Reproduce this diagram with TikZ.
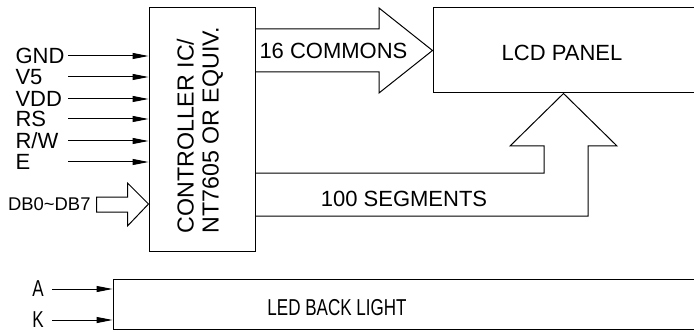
\documentclass[tikz,border=0pt]{standalone}
\usepackage{fontspec}
\setmainfont{Liberation Sans}
\usetikzlibrary{arrows.meta,calc}

\begin{document}
\begin{tikzpicture}[x=0.5pt,y=-0.5pt,line width=0.5pt,
    box/.style={draw,inner sep=0pt},
    sig/.style={-{Triangle[length=8pt,width=3pt]}},
    txt/.style={inner sep=0pt,font=\fontsize{11}{12.5}\selectfont},
    narrow/.style={txt,font=\fontsize{11.5}{13}\selectfont,xscale=0.74}]
    \useasboundingbox (0,0) rectangle (694,331);
    % blocks
    \node[box,minimum width=53pt,minimum height=121.5pt] (ctrl) at (202,129.5) {};
    \node[box,minimum width=130.5pt,minimum height=42.5pt] (lcd) at (563.5,50.5) {};
    \node[box,minimum width=290.5pt,minimum height=25pt] (led) at (403.5,304) {};
    \node[txt,font=\fontsize{11.6}{12.5}\selectfont,rotate=90,align=left] (ctrltxt) at (200,130) {CONTROLLER IC/\\NT7605 OR EQUIV.};
    \node[txt] (lcdtxt) at (562,53) {LCD PANEL};
    \node[narrow] (ledtxt) at (337,308) {LED BACK LIGHT};
    % control inputs
    \foreach \lab/\y in {GND/56,V5/77,VDD/99,RS/119,R\slash W/141,E/162} {
        \node[txt,anchor=west] (in) at (15,\y) {\lab};
        \coordinate (s) at (68,\y);
        \draw[sig] (s) -- (s -| ctrl.west);
    }
    % data bus
    \coordinate (db) at (ctrl.west |- 0,204);
    \draw (db) -- ++(-21,-21) -- ++(0,14) -- ++(-31,0) -- ++(0,15)
        -- ++(31,0) -- ++(0,14) -- cycle;
    \node[txt,font=\fontsize{9.2}{10}\selectfont,anchor=east] (dbtxt) at (91,204) {DB0\char`~DB7};
    % commons
    \draw (ctrl.east |- 0,29) -- (379,29) -- (379,8) -- (lcd.west)
        -- (379,93) -- (379,72) -- (ctrl.east |- 0,72);
    \node[txt,anchor=west] (com) at (259,51) {16 COMMONS};
    % segments
    \draw (ctrl.east |- 0,173) -- (544,173) -- (544,146) -- (510,146)
        -- (lcd.south) -- (617,146) -- (588,146) -- (588,216) -- (ctrl.east |- 0,216);
    \node[txt] (seg) at (404,199) {100 SEGMENTS};
    % back light
    \foreach \lab/\y in {A/289,K/320} {
        \node[narrow] (bl) at (38,\y) {\lab};
        \coordinate (s) at (52,\y);
        \draw[sig] (s) -- (s -| led.west);
    }
\end{tikzpicture}
\end{document}
